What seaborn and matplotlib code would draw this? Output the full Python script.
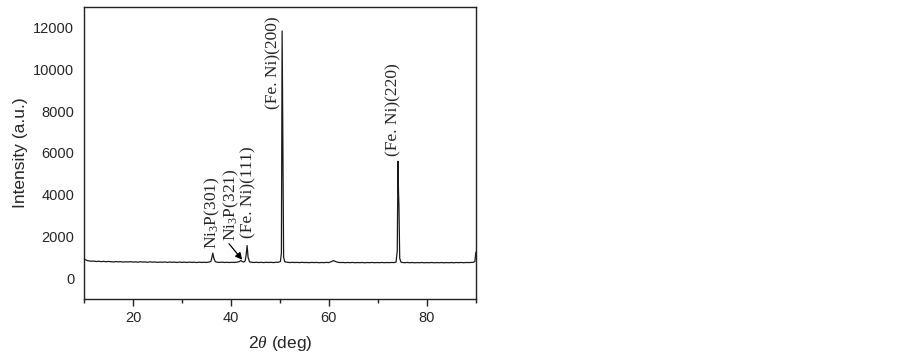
import pandas as pd
import matplotlib.pyplot as plt
import seaborn as sns
from matplotlib.ticker import MultipleLocator

two_theta = [10.0, 10.3, 10.7, 11.0, 11.5, 12.0, 12.5, 13.0, 13.5, 14.0, 14.5, 15.0, 15.5, 16.0, 16.5,
             17.0, 17.5, 18.0, 18.5, 19.0, 19.5, 20.0, 20.5, 21.0, 21.5, 22.0, 22.5, 23.0, 23.5, 24.0,
             24.5, 25.0, 25.5, 26.0, 26.5, 27.0, 27.5, 28.0, 28.5, 29.0, 29.5, 30.0, 30.5, 31.0, 31.5,
             32.0, 32.5, 33.0, 33.5, 34.0, 34.5, 35.0, 35.5, 35.9, 36.1, 36.3, 36.5, 36.8, 37.2, 37.7,
             38.2, 38.7, 39.2, 39.7, 40.2, 40.7, 41.2, 41.7, 42.0, 42.3, 42.6, 42.9, 43.1, 43.3, 43.5,
             43.8, 44.2, 44.7, 45.2, 45.7, 46.2, 46.7, 47.2, 47.7, 48.2, 48.7, 49.2, 49.7, 50.1, 50.3,
             50.45, 50.6, 50.75, 51.0, 51.5, 52.0, 52.5, 53.0, 53.5, 54.0, 54.5, 55.0, 55.5, 56.0, 56.5,
             57.0, 57.5, 58.0, 58.5, 59.0, 59.5, 60.0, 60.5, 60.9, 61.3, 61.8, 62.3, 62.8, 63.3, 63.8,
             64.3, 64.8, 65.3, 65.8, 66.3, 66.8, 67.3, 67.8, 68.3, 68.8, 69.3, 69.8, 70.3, 70.8, 71.3,
             71.8, 72.3, 72.8, 73.3, 73.7, 73.95, 74.1, 74.2, 74.3, 74.45, 74.7, 75.0, 75.5, 76.0, 76.5,
             77.0, 77.5, 78.0, 78.5, 79.0, 79.5, 80.0, 80.5, 81.0, 81.5, 82.0, 82.5, 83.0, 83.5, 84.0,
             84.5, 85.0, 85.5, 86.0, 86.5, 87.0, 87.5, 88.0, 88.5, 89.0, 89.5, 89.8, 90.0]
intensity = [940, 880, 840, 825, 810, 820, 795, 810, 790, 805, 785, 800, 790, 775, 795,
             780, 790, 770, 785, 775, 790, 770, 780, 765, 785, 770, 775, 760, 780, 765,
             775, 755, 770, 760, 775, 755, 770, 760, 765, 750, 770, 755, 765, 750, 768,
             755, 762, 748, 765, 752, 760, 750, 770, 800, 980, 1200, 960, 790, 760, 755,
             765, 750, 760, 748, 760, 752, 765, 790, 840, 800, 770, 820, 1100, 1560, 1000,
             780, 760, 750, 762, 748, 758, 745, 760, 750, 758, 745, 762, 760, 800, 1200,
             11850, 6500, 1000, 780, 760, 745, 760, 748, 755, 742, 758, 745, 752, 740, 755,
             745, 752, 738, 750, 742, 755, 745, 790, 840, 800, 760, 745, 752, 740, 750,
             742, 752, 738, 748, 740, 750, 735, 748, 740, 752, 738, 748, 740, 752, 738,
             748, 742, 752, 745, 770, 1300, 5600, 4200, 3400, 950, 770, 750, 740, 752, 738,
             748, 735, 745, 738, 750, 735, 745, 738, 750, 735, 745, 738, 748, 735, 745,
             738, 748, 735, 750, 740, 752, 738, 750, 745, 755, 760, 800, 1250]

# peak labels: (text, 2theta of text centre, intensity at text bottom)
peak_labels = ['Ni$_3$P(301)', 'Ni$_3$P(321)', '(Fe. Ni)(111)', '(Fe. Ni)(200)', '(Fe. Ni)(220)']
label_x = [36.2, 40.0, 43.6, 48.6, 73.1]
label_y = [1380, 1760, 1900, 8100, 5850]

# arrow from the Ni3P(321) label to its weak peak
arrow_tail = (39.6, 1650)
arrow_head = (42.3, 880)

df = pd.DataFrame({'two_theta': two_theta, 'intensity': intensity})

sns.set_theme(style='ticks')
plt.rcParams['font.family'] = ['Liberation Sans', 'DejaVu Sans']
plt.rcParams['mathtext.fontset'] = 'custom'
plt.rcParams['mathtext.rm'] = 'Liberation Serif'
plt.rcParams['mathtext.it'] = 'Liberation Serif:italic'

fig = plt.figure(figsize=(9.03, 3.57), dpi=100)
ax = fig.add_axes([0.093, 0.1625, 0.434, 0.818])

sns.lineplot(data=df, x='two_theta', y='intensity', ax=ax, color='#1a1a1a',
             linewidth=0.9, estimator=None, sort=False)

ax.set_xlim(10, 90)
ax.set_ylim(-1000, 13000)
ax.xaxis.set_major_locator(MultipleLocator(20))
ax.xaxis.set_minor_locator(MultipleLocator(10))
ax.set_yticks([0, 2000, 4000, 6000, 8000, 10000, 12000])
ax.tick_params(axis='x', which='major', length=5, width=1, direction='out', labelsize=10.5, pad=4,
               color='#222222')
ax.tick_params(axis='x', which='minor', length=3, width=1, direction='out', color='#222222')
ax.tick_params(axis='y', length=0, labelsize=10.5, pad=7)
for s in ax.spines.values():
    s.set_visible(True)
    s.set_color('#222222')
    s.set_linewidth(1)

ax.set_xlabel(r'2$\theta$ (deg)', fontsize=12.5, labelpad=6)
ax.set_ylabel('Intensity (a.u.)', fontsize=12.5, labelpad=4)

serif = ['Liberation Serif', 'DejaVu Serif']
for txt, xv, yv in zip(peak_labels, label_x, label_y):
    ax.text(xv, yv, txt, rotation=90, ha='center', va='bottom', fontsize=12.5, family=serif)

ax.annotate('', xy=arrow_head, xytext=arrow_tail,
            arrowprops=dict(arrowstyle='-|>', color='black', lw=0.9, mutation_scale=10,
                            shrinkA=0, shrinkB=0))

plt.savefig('out.png', dpi=100)
